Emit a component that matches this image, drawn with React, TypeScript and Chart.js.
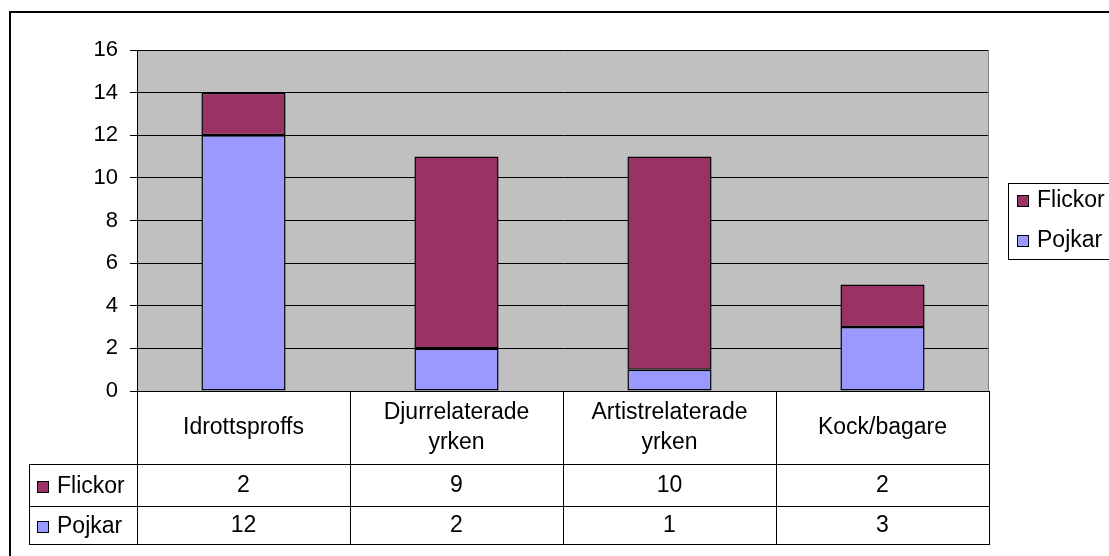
import React, { useEffect, useRef } from "react";
import { Chart, registerables } from "chart.js";

Chart.register(...registerables);

const categories: string[][] = [
  ["Idrottsproffs"],
  ["Djurrelaterade", "yrken"],
  ["Artistrelaterade", "yrken"],
  ["Kock/bagare"],
];
const flickor = [2, 9, 10, 2];
const pojkar = [12, 2, 1, 3];
const seriesNames = ["Flickor", "Pojkar"];
const flickorColor = "#993366";
const pojkarColor = "#9999FF";

const FONT = '"Liberation Sans", Arial, sans-serif';
const FS = 22;
const TFS = 23;

const tablePlugin = {
  id: "excelTable",
  beforeDraw(chart: any) {
    const { ctx, chartArea } = chart;
    ctx.save();
    ctx.fillStyle = "#ffffff";
    ctx.fillRect(0, 0, chart.width, chart.height);
    ctx.fillStyle = "#C0C0C0";
    ctx.fillRect(chartArea.left, chartArea.top, chartArea.right - chartArea.left, chartArea.bottom - chartArea.top);
    ctx.restore();
  },
  afterDraw(chart: any) {
    const { ctx, chartArea } = chart;
    const x = chart.scales.x;
    const L = chartArea.left;
    const R = chartArea.right;
    const B = chartArea.bottom;
    const row1 = B + 73;
    const row2 = row1 + 42;
    const row3 = row2 + 38;
    const tableLeft = 29;
    ctx.save();
    ctx.strokeStyle = "#808080";
    ctx.lineWidth = 1;
    ctx.beginPath();
    ctx.moveTo(R - 0.5, chartArea.top);
    ctx.lineTo(R - 0.5, B);
    ctx.stroke();

    ctx.strokeStyle = "#000000";
    ctx.lineWidth = 1;
    ctx.beginPath();
    ctx.moveTo(L, B + 0.5);
    ctx.lineTo(R, B + 0.5);
    ctx.moveTo(tableLeft, row1 + 0.5);
    ctx.lineTo(R, row1 + 0.5);
    ctx.moveTo(tableLeft, row2 + 0.5);
    ctx.lineTo(R, row2 + 0.5);
    ctx.moveTo(tableLeft, row3 + 0.5);
    ctx.lineTo(R, row3 + 0.5);
    const n = categories.length;
    const w = (R - L) / n;
    for (let i = 0; i <= n; i++) {
      const vx = Math.round(L + i * w) + 0.5;
      ctx.moveTo(vx, B);
      ctx.lineTo(vx, row3 + 1);
    }
    ctx.moveTo(tableLeft + 0.5, row1);
    ctx.lineTo(tableLeft + 0.5, row3 + 1);
    ctx.stroke();

    ctx.fillStyle = "#000000";
    ctx.font = `${TFS}px ${FONT}`;
    ctx.textAlign = "center";
    ctx.textBaseline = "middle";
    categories.forEach((lines, i) => {
      const cx = x.getPixelForValue(i);
      const mid = (B + row1) / 2;
      const lh = 30;
      const start = mid - ((lines.length - 1) * lh) / 2;
      lines.forEach((t, j) => ctx.fillText(t, cx, start + j * lh));
      ctx.fillText(String(flickor[i]), cx, (row1 + row2) / 2 + 1);
      ctx.fillText(String(pojkar[i]), cx, (row2 + row3) / 2 + 1);
    });

    const drawKey = (sx: number, sy: number, color: string, label: string, tx: number) => {
      ctx.fillStyle = color;
      ctx.fillRect(sx, sy - 6, 12, 12);
      ctx.strokeStyle = "#000";
      ctx.lineWidth = 1;
      ctx.strokeRect(sx + 0.5, sy - 5.5, 11, 11);
      ctx.fillStyle = "#000";
      ctx.textAlign = "left";
      ctx.fillText(label, tx, sy);
    };
    drawKey(37, (row1 + row2) / 2 + 2, flickorColor, seriesNames[0], 57);
    drawKey(37, (row2 + row3) / 2 + 2, pojkarColor, seriesNames[1], 57);

    ctx.strokeStyle = "#000";
    ctx.lineWidth = 1;
    ctx.strokeRect(1008.5, 183.5, 140, 76);
    drawKey(1017, 201, flickorColor, seriesNames[0], 1037);
    drawKey(1017, 241, pojkarColor, seriesNames[1], 1037);

    ctx.lineWidth = 2;
    ctx.strokeStyle = "#000";
    ctx.strokeRect(10, 12, 1200, 600);
    ctx.restore();
  },
};

export default function App() {
  const ref = useRef<HTMLCanvasElement>(null);
  useEffect(() => {
    document.body.style.margin = "0";
    document.body.style.overflow = "hidden";
    const common = {
      borderColor: "#000",
      borderWidth: 1.5,
      borderSkipped: false,
      barPercentage: 0.395,
      categoryPercentage: 1,
    };
    const chart = new Chart(ref.current!, {
      type: "bar",
      data: {
        labels: categories.map((c) => c.join(" ")),
        datasets: [
          { label: seriesNames[1], data: pojkar, backgroundColor: pojkarColor, ...common },
          { label: seriesNames[0], data: flickor, backgroundColor: flickorColor, ...common },
        ],
      },
      options: {
        responsive: false,
        animation: false,
        devicePixelRatio: 1,
        layout: { padding: { top: 50, left: 0, right: 120, bottom: 165 } },
        plugins: { legend: { display: false }, tooltip: { enabled: false }, title: { display: false } },
        scales: {
          x: { stacked: true, display: false },
          y: {
            stacked: true,
            min: 0,
            max: 16,
            ticks: { stepSize: 2, color: "#000", font: { family: FONT, size: FS }, padding: 12 },
            grid: { color: "#000", lineWidth: 1, tickLength: 7, drawTicks: true },
            border: { display: true, color: "#000" },
            afterFit(scale: any) {
              scale.width = 137;
            },
          },
        },
      },
      plugins: [tablePlugin],
    });
    return () => chart.destroy();
  }, []);
  return (
    <div style={{ width: 1109, height: 556 }}>
      <canvas ref={ref} width={1109} height={556} />
    </div>
  );
}
